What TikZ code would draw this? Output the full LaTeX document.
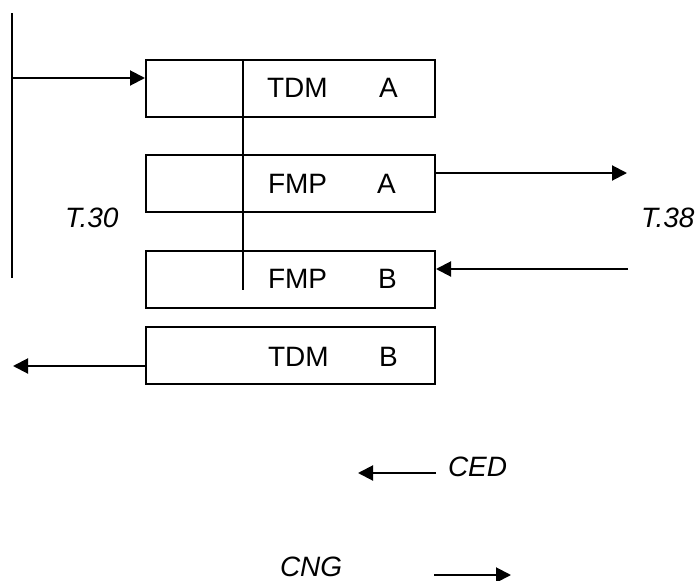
\documentclass[tikz,border=0pt]{standalone}
\usepackage{fontspec}
\setmainfont{Liberation Sans}
\usetikzlibrary{arrows.meta}
\begin{document}
\begin{tikzpicture}[x=1pt,y=-1pt,
  line width=2pt,
  box/.style={draw,rectangle,minimum width=289pt,minimum height=57pt,inner sep=0pt,line width=2pt},
  lbl/.style={anchor=base west,inner sep=0pt,font=\fontsize{28}{30}\selectfont},
  ilbl/.style={lbl,font=\fontsize{28}{30}\selectfont\itshape},
  arr/.style={-{Triangle[length=15pt,width=15pt]}}]
\useasboundingbox (0,0) rectangle (699,581);
% left bar
\coordinate (Ltop) at (12,13);
\coordinate (Lbot) at (12,278);
\draw (Ltop) -- (Lbot);
% boxes
\node[box] (tdmA) at (290.5,88) {};
\node[box] (fmpA) at (290.5,183.5) {};
\node[box] (fmpB) at (290.5,279.5) {};
\node[box] (tdmB) at (290.5,355.5) {};
% inner vertical line
\coordinate (Vtop) at (243,59);
\coordinate (Vbot) at (243,290);
\draw (Vtop) -- (Vbot);
% labels in boxes
\node[lbl] (t1) at (266,97) {TDM};
\node[lbl] (t1b) at (378,97) {A};
\node[lbl] (t2) at (267,193) {FMP};
\node[lbl] (t2b) at (376,193) {A};
\node[lbl] (t3) at (267,288) {FMP};
\node[lbl] (t3b) at (377,288) {B};
\node[lbl] (t4) at (267,366) {TDM};
\node[lbl] (t4b) at (378,366) {B};
% side labels
\node[ilbl] (T30) at (64,227) {T.30};
\node[ilbl] (T38) at (640,227) {T.38};
\node[ilbl] (CED) at (447,476) {CED};
\node[ilbl] (CNG) at (279,576) {CNG};
% arrows
\coordinate (a1) at (12,78);
\draw[arr] (a1) -- (a1 -| tdmA.west);
\coordinate (a2) at (627,173);
\draw[arr] (a2 -| fmpA.east) -- (a2);
\coordinate (a3) at (628,269);
\draw[arr] (a3) -- (a3 -| fmpB.east);
\coordinate (a4) at (13,366);
\draw[arr] (a4 -| tdmB.west) -- (a4);
\coordinate (c1) at (436,473);
\coordinate (c2) at (358,473);
\draw[arr] (c1) -- (c2);
\coordinate (g1) at (434,575);
\coordinate (g2) at (511,575);
\draw[arr] (g1) -- (g2);
\end{tikzpicture}
\end{document}
